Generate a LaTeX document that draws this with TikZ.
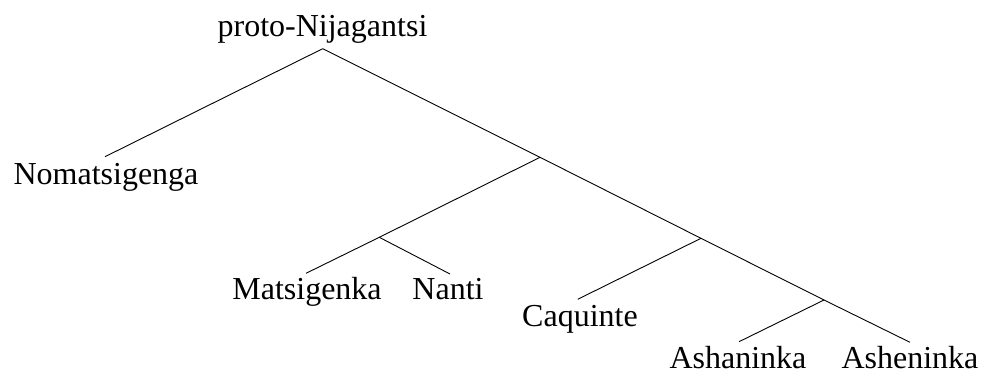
\documentclass[tikz,border=0pt]{standalone}
\usepackage{fontspec}
\setmainfont{Liberation Serif}
\begin{document}
\begin{tikzpicture}[x=1pt,y=-1pt,
  leaf/.style={anchor=base,inner sep=0pt,font=\fontsize{32}{38}\selectfont},
  branch/.style={line width=0.9pt}]
\useasboundingbox (0,0) rectangle (981,372);
% labels
\node[leaf] (root) at (322.5,36) {proto-Nijagantsi};
\node[leaf] (noma) at (106,184) {Nomatsigenga};
\node[leaf] (mats) at (307,299.5) {Matsigenka};
\node[leaf] (nant) at (448,299.5) {Nanti};
\node[leaf] (caqu) at (580,326.5) {Caquinte};
\node[leaf] (asha) at (738,368.5) {Ashaninka};
\node[leaf] (ashe) at (910,368.5) {Asheninka};
% branching points
\coordinate (r)  at (322.7,48.7);
\coordinate (n1) at (540,157.3);
\coordinate (n2) at (379.3,237.3);
\coordinate (n3) at (701,238.3);
\coordinate (n4) at (824,300);
% tops of the leaf branches
\coordinate (tnoma) at (105,156.7);
\coordinate (tmats) at (306,273.3);
\coordinate (tnant) at (450,274);
\coordinate (tcaqu) at (577.7,299.3);
\coordinate (tasha) at (739,341.7);
\coordinate (tashe) at (910,342.3);
\draw[branch] (r) -- (tnoma);
\draw[branch] (r) -- (n1);
\draw[branch] (n1) -- (n2);
\draw[branch] (n2) -- (tmats);
\draw[branch] (n2) -- (tnant);
\draw[branch] (n1) -- (n3);
\draw[branch] (n3) -- (tcaqu);
\draw[branch] (n3) -- (n4);
\draw[branch] (n4) -- (tasha);
\draw[branch] (n4) -- (tashe);
\end{tikzpicture}
\end{document}
